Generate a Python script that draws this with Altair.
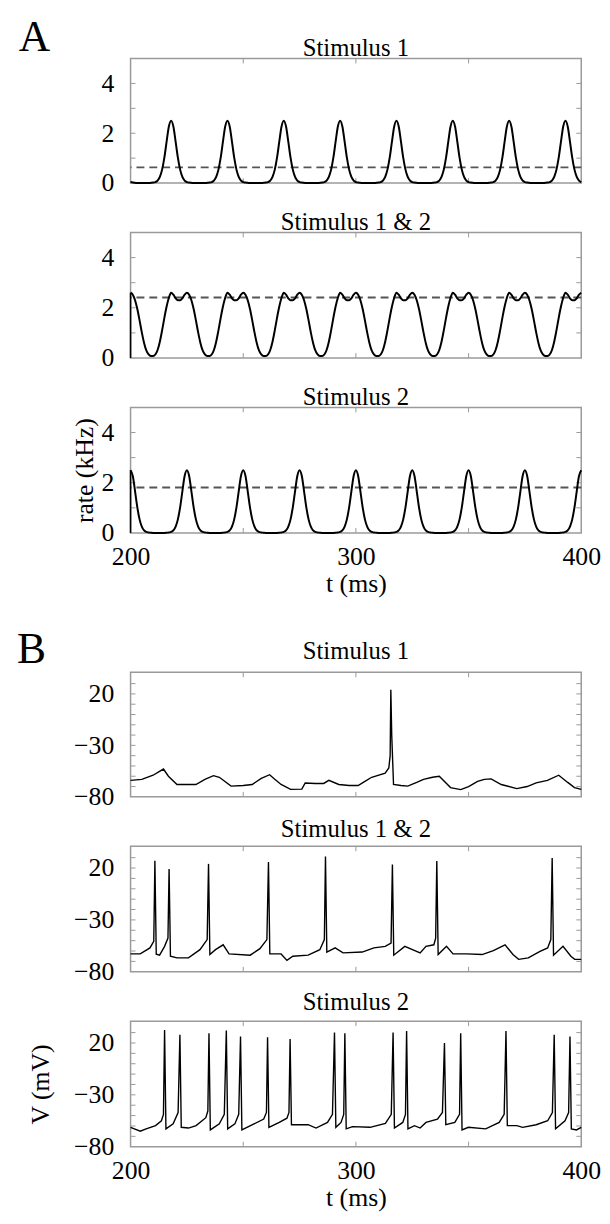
import altair as alt
import pandas as pd

# ---------------- data ----------------
t_rate = list(range(200, 401))

rate_s1 = [
    0.04, 0.02, 0.01, 0, 0, 0,
    0, 0, 0, 0.01, 0.02, 0.04, 0.1, 0.25, 0.54, 1.02, 1.66, 2.27, 2.5, 2.27, 1.66, 1.02, 0.54, 0.25, 0.1, 0.04, 0.02, 0.01, 0, 0, 0,
    0, 0, 0, 0.01, 0.02, 0.04, 0.1, 0.25, 0.54, 1.02, 1.66, 2.27, 2.5, 2.27, 1.66, 1.02, 0.54, 0.25, 0.1, 0.04, 0.02, 0.01, 0, 0, 0,
    0, 0, 0, 0.01, 0.02, 0.04, 0.1, 0.25, 0.54, 1.02, 1.66, 2.27, 2.5, 2.27, 1.66, 1.02, 0.54, 0.25, 0.1, 0.04, 0.02, 0.01, 0, 0, 0,
    0, 0, 0, 0.01, 0.02, 0.04, 0.1, 0.25, 0.54, 1.02, 1.66, 2.27, 2.5, 2.27, 1.66, 1.02, 0.54, 0.25, 0.1, 0.04, 0.02, 0.01, 0, 0, 0,
    0, 0, 0, 0.01, 0.02, 0.04, 0.1, 0.25, 0.54, 1.02, 1.66, 2.27, 2.5, 2.27, 1.66, 1.02, 0.54, 0.25, 0.1, 0.04, 0.02, 0.01, 0, 0, 0,
    0, 0, 0, 0.01, 0.02, 0.04, 0.1, 0.25, 0.54, 1.02, 1.66, 2.27, 2.5, 2.27, 1.66, 1.02, 0.54, 0.25, 0.1, 0.04, 0.02, 0.01, 0, 0, 0,
    0, 0, 0, 0.01, 0.02, 0.04, 0.1, 0.25, 0.54, 1.02, 1.66, 2.27, 2.5, 2.27, 1.66, 1.02, 0.54, 0.25, 0.1, 0.04, 0.02, 0.01, 0, 0, 0,
    0, 0, 0, 0.01, 0.02, 0.04, 0.1, 0.25, 0.54, 1.02, 1.66, 2.27, 2.5, 2.27, 1.66, 1.02, 0.54, 0.25, 0.1, 0.04,
]

rate_s12 = [
    2.6, 2.52, 2.3, 1.95, 1.5, 1.02, 0.6, 0.3, 0.14, 0.08, 0.08, 0.14, 0.32, 0.65, 1.1, 1.6, 2.05, 2.4, 2.6, 2.52, 2.38, 2.3, 2.3, 2.38, 2.52,
    2.6, 2.52, 2.3, 1.95, 1.5, 1.02, 0.6, 0.3, 0.14, 0.08, 0.08, 0.14, 0.32, 0.65, 1.1, 1.6, 2.05, 2.4, 2.6, 2.52, 2.38, 2.3, 2.3, 2.38, 2.52,
    2.6, 2.52, 2.3, 1.95, 1.5, 1.02, 0.6, 0.3, 0.14, 0.08, 0.08, 0.14, 0.32, 0.65, 1.1, 1.6, 2.05, 2.4, 2.6, 2.52, 2.38, 2.3, 2.3, 2.38, 2.52,
    2.6, 2.52, 2.3, 1.95, 1.5, 1.02, 0.6, 0.3, 0.14, 0.08, 0.08, 0.14, 0.32, 0.65, 1.1, 1.6, 2.05, 2.4, 2.6, 2.52, 2.38, 2.3, 2.3, 2.38, 2.52,
    2.6, 2.52, 2.3, 1.95, 1.5, 1.02, 0.6, 0.3, 0.14, 0.08, 0.08, 0.14, 0.32, 0.65, 1.1, 1.6, 2.05, 2.4, 2.6, 2.52, 2.38, 2.3, 2.3, 2.38, 2.52,
    2.6, 2.52, 2.3, 1.95, 1.5, 1.02, 0.6, 0.3, 0.14, 0.08, 0.08, 0.14, 0.32, 0.65, 1.1, 1.6, 2.05, 2.4, 2.6, 2.52, 2.38, 2.3, 2.3, 2.38, 2.52,
    2.6, 2.52, 2.3, 1.95, 1.5, 1.02, 0.6, 0.3, 0.14, 0.08, 0.08, 0.14, 0.32, 0.65, 1.1, 1.6, 2.05, 2.4, 2.6, 2.52, 2.38, 2.3, 2.3, 2.38, 2.52,
    2.6, 2.52, 2.3, 1.95, 1.5, 1.02, 0.6, 0.3, 0.14, 0.08, 0.08, 0.14, 0.32, 0.65, 1.1, 1.6, 2.05, 2.4, 2.6, 2.52, 2.38, 2.3, 2.3, 2.38, 2.52,
    2.6,
]

rate_s2 = [
    2.5, 2.27, 1.66, 1.02, 0.54, 0.25, 0.1, 0.04, 0.02, 0.01, 0, 0, 0, 0, 0, 0, 0.01, 0.02, 0.04, 0.1, 0.25, 0.54, 1.02, 1.66, 2.27,
    2.5, 2.27, 1.66, 1.02, 0.54, 0.25, 0.1, 0.04, 0.02, 0.01, 0, 0, 0, 0, 0, 0, 0.01, 0.02, 0.04, 0.1, 0.25, 0.54, 1.02, 1.66, 2.27,
    2.5, 2.27, 1.66, 1.02, 0.54, 0.25, 0.1, 0.04, 0.02, 0.01, 0, 0, 0, 0, 0, 0, 0.01, 0.02, 0.04, 0.1, 0.25, 0.54, 1.02, 1.66, 2.27,
    2.5, 2.27, 1.66, 1.02, 0.54, 0.25, 0.1, 0.04, 0.02, 0.01, 0, 0, 0, 0, 0, 0, 0.01, 0.02, 0.04, 0.1, 0.25, 0.54, 1.02, 1.66, 2.27,
    2.5, 2.27, 1.66, 1.02, 0.54, 0.25, 0.1, 0.04, 0.02, 0.01, 0, 0, 0, 0, 0, 0, 0.01, 0.02, 0.04, 0.1, 0.25, 0.54, 1.02, 1.66, 2.27,
    2.5, 2.27, 1.66, 1.02, 0.54, 0.25, 0.1, 0.04, 0.02, 0.01, 0, 0, 0, 0, 0, 0, 0.01, 0.02, 0.04, 0.1, 0.25, 0.54, 1.02, 1.66, 2.27,
    2.5, 2.27, 1.66, 1.02, 0.54, 0.25, 0.1, 0.04, 0.02, 0.01, 0, 0, 0, 0, 0, 0, 0.01, 0.02, 0.04, 0.1, 0.25, 0.54, 1.02, 1.66, 2.27,
    2.5, 2.27, 1.66, 1.02, 0.54, 0.25, 0.1, 0.04, 0.02, 0.01, 0, 0, 0, 0, 0, 0, 0.01, 0.02, 0.04, 0.1, 0.25, 0.54, 1.02, 1.66, 2.27,
    2.5,
]

# dashed reference levels (kHz) for Stimulus 1, 1 & 2, 2
dash_s1 = [0.63]
dash_s12 = [2.41]
dash_s2 = [1.81]

# left-edge vertical segments seen in A (Stimulus 1 & 2, Stimulus 2)
edge_s12 = [0, 2.6]
edge_s2 = [0, 2.5]

# membrane potential traces (ms, mV)
t_v1 = [200, 205, 210, 214.6, 216.8, 220.6, 229, 233, 236.8, 239.4, 244.6, 250, 254, 258, 261.7, 264, 266.8,
        271, 276, 277.5, 282, 285.7, 288, 292.4, 297, 301, 304, 307, 313, 314.6, 315.2, 315.5, 315.9, 316.7,
        320, 323, 327, 330, 334, 337, 342, 346.5, 350, 354, 357, 360, 364.5, 371.4, 376, 380, 385, 390, 394,
        397, 400]
v_s1 = [-64, -63, -59, -53, -60, -68, -68, -63, -59.4, -61, -69.6, -69, -68, -62, -58.5, -63, -68,
        -72.7, -72.5, -66.5, -67, -67, -64, -68, -69, -69, -65, -61, -57, -52, -40, 24, -20, -68,
        -69, -69.6, -66, -63, -61, -60, -71, -73, -70, -65, -63, -62.6, -68, -72, -70, -66.4, -64, -59, -66,
        -71, -72.7]

t_v12 = [200, 204.3, 208.6, 210.3, 210.8, 211.4, 212.9, 215.1, 216.6, 217.1, 217.7, 220.6, 225.7, 230.8, 234,
         234.6, 235.2, 237.7, 241.1, 243.7, 253.1, 257.4, 260.5, 261.2, 261.8, 266.8, 269.4, 272, 278.8, 284,
         286, 286.5, 287.1, 290.8, 294.3, 302.8, 308, 313, 315.6, 316.2, 316.8, 321.7, 325.1, 328.5, 331.1,
         334.6, 335.4, 335.9, 336.5, 340.2, 343.1, 349.1, 356, 361, 366.2, 369.7, 372.2, 376.5, 381.7, 385.1,
         386.5, 387.1, 387.7, 391.9, 395.4, 397.1, 400]
v_s12 = [-62.8, -62.8, -57, -50.7, 27, -63, -64, -55.5, -47.5, 19, -65, -66.6, -66.6, -58.7, -49,
         24, -63.4, -58.7, -54, -62.8, -64, -57.7, -49, 25.7, -62.8, -62.8, -69, -65, -64, -58.7,
         -49, 31, -61, -57, -61.8, -61, -57, -55.5, -52.3, 23.5, -64, -55.5, -58.7, -61.8, -55.5,
         -54, -47.5, 26.7, -63.4, -55.5, -62.8, -62.8, -63.4, -59.6, -54, -63.4, -68, -66.6, -60.3, -57,
         -49, 29.6, -64, -55.5, -65, -68, -68]

t_v2 = [200, 201.7, 204.3, 206.9, 211.1, 213.7, 214.6, 215.1, 215.7, 218.9, 221.1, 221.9, 222.5, 225.7, 229.1,
        233.4, 234.3, 234.8, 235.4, 239.4, 241.6, 242.5, 243.1, 246.3, 248, 248.8, 249.4, 254.8, 259.1, 260.3,
        260.8, 261.4, 266, 269.4, 270.3, 270.8, 271.4, 278.8, 282.3, 287.4, 289.6, 290.5, 291.1, 293.4, 294.6,
        295.1, 295.7, 298.5, 306.3, 313.1, 315.7, 316.5, 317.1, 320.8, 322, 322.5, 323.1, 326, 328.5, 331.1,
        336.2, 338.4, 339.3, 339.9, 343.9, 346, 346.5, 347.1, 349.9, 357.6, 363.6, 365.8, 366.6, 367.2, 371.4,
        374, 380, 385.1, 387.2, 388, 388.6, 392.8, 394.4, 395, 395.6, 397.9, 400]
v_s2 = [-61.3, -62.8, -65, -62.8, -59.7, -55, -48.8, 32.5, -62.8, -58, -47, 27.8, -61.3, -62, -59.7,
        -52, -45.6, 29.4, -63.8, -58, -48.8, 31.9, -62.8, -58, -48.8, 26.3, -63.8, -58, -53.4, -47,
        25.6, -61.3, -56.6, -52.5, -47, 23.8, -58.8, -58.8, -62, -56.6, -48.8, 30, -61.3, -56.6, -48.8,
        29.4, -62.8, -60.6, -61.3, -57.5, -48.8, 30, -62, -56.6, -48.8, 31.6, -62.8, -59.7, -62, -56.6,
        -53.4, -47, 20, -58.8, -56.6, -48.8, 29.4, -63.8, -61.3, -62.8, -56.6, -48.8, 31.6, -59.7, -59.7,
        -61.3, -58.8, -55, -47, 27.8, -62.8, -55, -47, 26.3, -62.8, -63.8, -61.3]

# axis ticks / labels
x_labels = [200, 300, 400]
x_ticks = [250, 300, 350]
rate_labels = [0, 2, 4]
rate_ticks = [1, 2, 3, 4]
v_labels = [-80, -30, 20]
v_ticks = [-70, -60, -50, -40, -30, -20, -10, 0, 10, 20, 30]

# ---------------- styling ----------------
SERIF = "Liberation Serif"
GREY = "#9a9a9a"
W = 456


def panel(title, t, v, h, ydom, ylabels, yticks, lw, title_offset,
          dash=None, edge=None, show_x=False, ytitle=None, ytitle_x=-47,
          letter=None, letter_dx=-113, letter_dy=-8, anchor=False, interp="linear"):
    xs = alt.Scale(domain=[200, 400], nice=False, zero=False)
    ys = alt.Scale(domain=ydom, nice=False, zero=False)
    if show_x:
        xax = alt.Axis(values=x_labels, format="d", labelFlush=False, labelOverlap=False,
                       labelBaseline="middle", labelPadding=24, title="t (ms)",
                       titleX=W / 2, titleY=51, titleAlign="center", titleBaseline="middle")
    else:
        xax = None
    if ytitle:
        yax = alt.Axis(values=ylabels, format="d", labelPadding=17, labelBaseline="middle",
                       title=ytitle, titleX=ytitle_x, titleY=h / 2, titleAngle=270,
                       titleAlign="center", titleBaseline="middle")
    else:
        yax = alt.Axis(values=ylabels, format="d", labelPadding=17, labelBaseline="middle", title=None)

    def X(f="t"):
        return alt.X(f"{f}:Q", scale=xs, axis=xax)

    def Y(f="v"):
        return alt.Y(f"{f}:Q", scale=ys, axis=yax)

    yt = pd.DataFrame({"v": yticks})
    xt = pd.DataFrame({"t": x_ticks})
    layers = [
        alt.Chart(yt).mark_rule(color=GREY, strokeWidth=1).encode(y=Y(), x=alt.value(0), x2=alt.value(5)),
        alt.Chart(yt).mark_rule(color=GREY, strokeWidth=1).encode(y=Y(), x=alt.value(W - 5), x2=alt.value(W)),
        alt.Chart(xt).mark_rule(color=GREY, strokeWidth=1).encode(x=X(), y=alt.value(0), y2=alt.value(5)),
        alt.Chart(xt).mark_rule(color=GREY, strokeWidth=1).encode(x=X(), y=alt.value(h - 5), y2=alt.value(h)),
    ]
    if dash is not None:
        layers.append(alt.Chart(pd.DataFrame({"v": dash})).mark_rule(
            color="#555555", strokeWidth=2, strokeDash=[8, 5]).encode(y=Y()))
    if edge is not None:
        layers.append(alt.Chart(pd.DataFrame({"t": [200], "v": [edge[0]], "v2": [edge[1]]})).mark_rule(
            color="black", strokeWidth=1.6).encode(x=X(), y=Y(), y2="v2:Q"))
    layers.append(alt.Chart(pd.DataFrame({"t": t, "v": v})).mark_line(
        color="black", strokeWidth=lw, interpolate=interp).encode(x=X(), y=Y()))
    # panel title
    layers.append(alt.Chart(pd.DataFrame({"ttl": [title]})).mark_text(
        font=SERIF, fontSize=25, align="center", baseline="alphabetic", color="black").encode(
        text="ttl:N", x=alt.value(W / 2), y=alt.value(-title_offset)))
    if letter is not None:
        layers.append(alt.Chart(pd.DataFrame({"lab": [letter]})).mark_text(
            font=SERIF, fontSize=44, align="left", baseline="alphabetic", color="black").encode(
            text="lab:N", x=alt.value(letter_dx), y=alt.value(letter_dy)))
    if anchor:
        layers.append(alt.Chart(pd.DataFrame({"a": [0]})).mark_rule(opacity=0).encode(
            x=alt.value(-123), x2=alt.value(-122), y=alt.value(-42), y2=alt.value(-41)))
    return alt.layer(*layers).properties(width=W, height=h)


A1 = panel("Stimulus 1", t_rate, rate_s1, 126, [0, 5], rate_labels, rate_ticks, 2, 3,
           dash=dash_s1, letter="A", anchor=True, interp="monotone")
A2 = panel("Stimulus 1 & 2", t_rate, rate_s12, 127, [0, 5], rate_labels, rate_ticks, 2, 3,
           dash=dash_s12, edge=edge_s12, interp="monotone")
A3 = panel("Stimulus 2", t_rate, rate_s2, 127, [0, 5], rate_labels, rate_ticks, 2, 2,
           dash=dash_s2, edge=edge_s2, show_x=True, ytitle="rate (kHz)", ytitle_x=-47, interp="monotone")

spacer = alt.Chart(pd.DataFrame({"a": [0]})).mark_point(opacity=0).encode(
    x=alt.X("a:Q", axis=None), y=alt.Y("a:Q", axis=None)
).properties(width=W, height=41, view=alt.ViewBackground(stroke="transparent"))

B1 = panel("Stimulus 1", t_v1, v_s1, 126, [-80, 41], v_labels, v_ticks, 1.4, 13,
           letter="B", letter_dx=-115, letter_dy=-9)
B2 = panel("Stimulus 1 & 2", t_v12, v_s12, 127, [-80, 41], v_labels, v_ticks, 1.4, 9)
B3 = panel("Stimulus 2", t_v2, v_s2, 127, [-80, 41], v_labels, v_ticks, 1.4, 11,
           show_x=True, ytitle="V (mV)", ytitle_x=-91)

chart = alt.vconcat(A1, A2, A3, spacer, B1, B2, B3, spacing=50, bounds="flush").properties(
    padding={"left": 0, "top": 0, "right": 0, "bottom": 0}
).configure_view(
    stroke=GREY, strokeWidth=1.5
).configure_axis(
    labelFont=SERIF, labelFontSize=26, labelColor="black",
    titleFont=SERIF, titleFontSize=26, titleFontWeight="normal", titleColor="black",
    grid=False, ticks=False, domain=False
)

chart.save("out.html", embed_options={"renderer": "svg", "actions": False})
